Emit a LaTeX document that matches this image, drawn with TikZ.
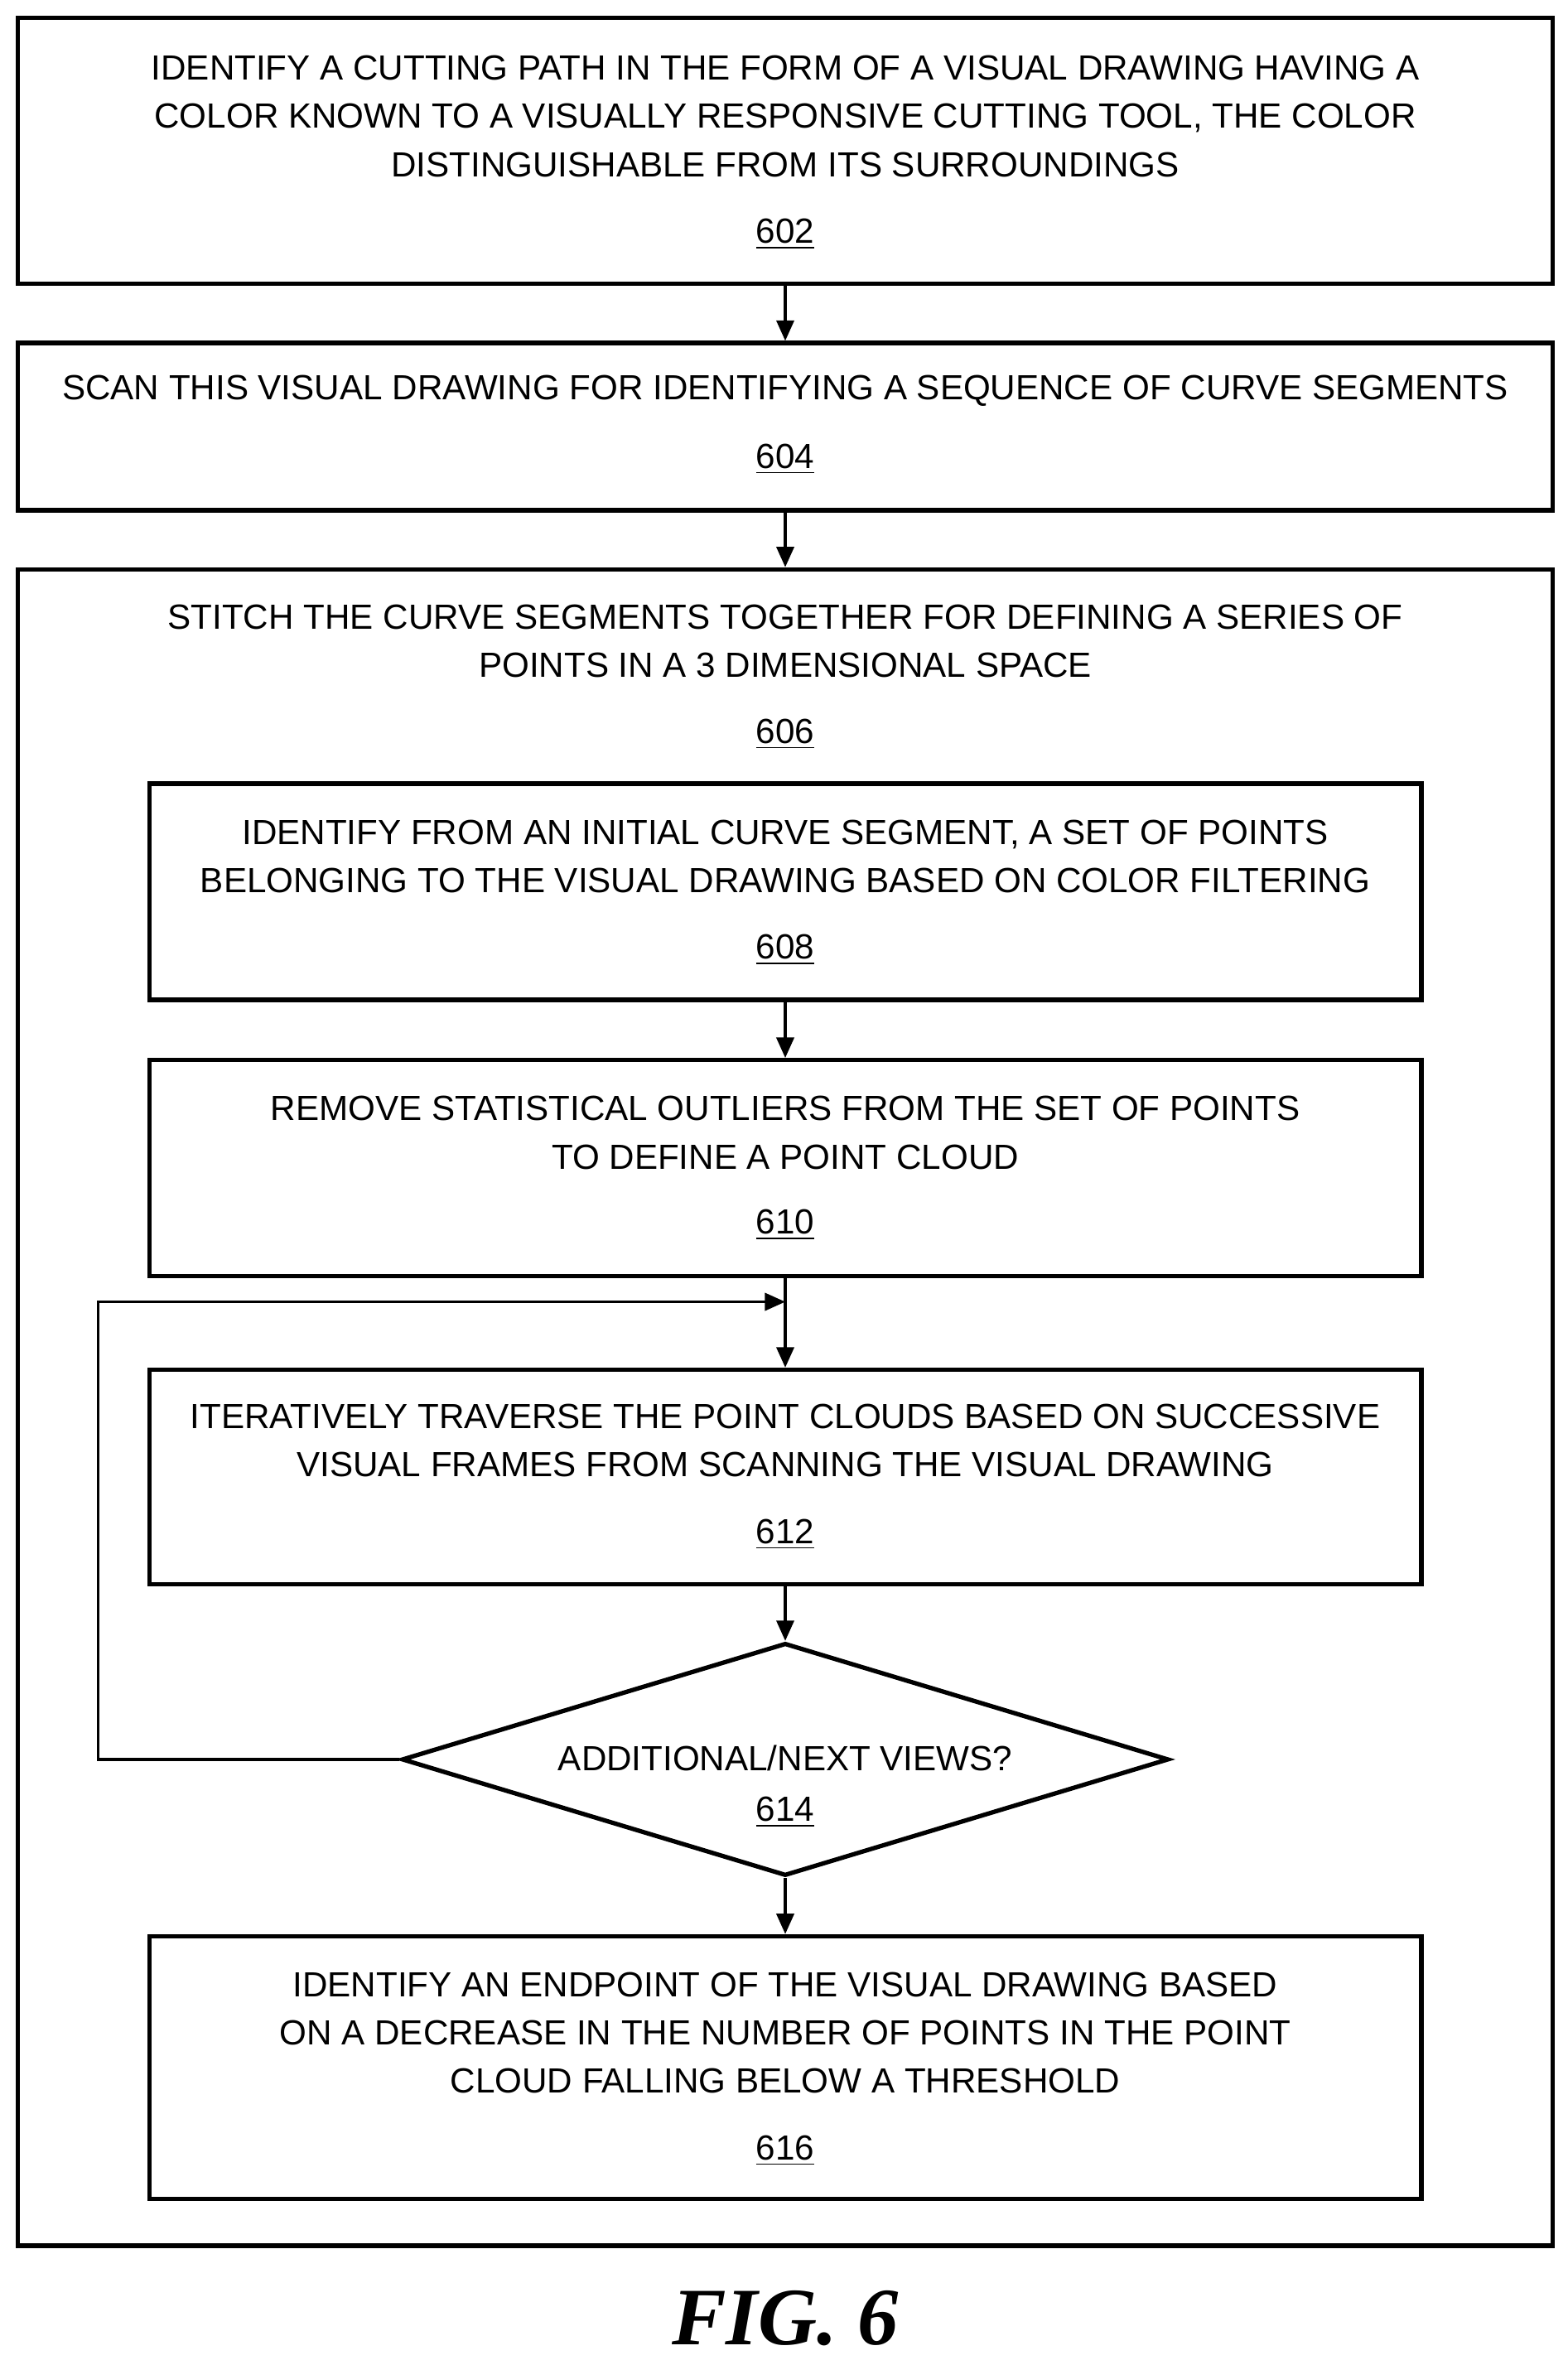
\documentclass[tikz,border=0pt]{standalone}
\usepackage{fontspec}
\setmainfont{Liberation Sans}
\newfontfamily\figfont{Liberation Serif}
\usetikzlibrary{arrows.meta,shapes.geometric,positioning}

\tikzset{
  box/.style={draw, line width=1.5pt, rectangle, inner sep=0pt},
  txt/.style={align=center, inner sep=0pt, font=\fontsize{12}{16.6}\selectfont},
  num/.style={inner sep=0pt, font=\fontsize{12}{16.6}\selectfont},
  arr/.style={-{Triangle[length=7pt,width=6pt]}, line width=1pt}
}

\begin{document}
\begin{tikzpicture}[x=0.018237cm, y=-0.018237cm]
            \useasboundingbox (0,0) rectangle (1038,1566);

            % boxes
            \node[box, minimum width=18.53cm, minimum height=3.21cm] (b602) at (520,100) {};
            \node[box, minimum width=18.53cm, minimum height=2.02cm] (b604) at (520,282.5) {};
            \node[box, minimum width=18.53cm, minimum height=20.24cm] (b606) at (520,932) {};
            \node[box, minimum width=15.36cm, minimum height=2.61cm] (b608) at (520,590.5) {};
            \node[box, minimum width=15.36cm, minimum height=2.61cm] (b610) at (520,773.5) {};
            \node[box, minimum width=15.36cm, minimum height=2.59cm] (b612) at (520,978) {};
            \node[box, diamond, minimum width=9.26cm, minimum height=2.81cm] (d614) at (520,1165) {};
            \node[box, minimum width=15.36cm, minimum height=3.17cm] (b616) at (520,1369) {};

            % texts
            \node[txt] (t602) at (520,77) {IDENTIFY A CUTTING PATH IN THE FORM OF A VISUAL DRAWING HAVING A\\COLOR KNOWN TO A VISUALLY RESPONSIVE CUTTING TOOL, THE COLOR\\DISTINGUISHABLE FROM ITS SURROUNDINGS};
            \node[num] (n602) at (520,155) {\underline{602}};
            \node[txt] (t604) at (520,259) {SCAN THIS VISUAL DRAWING FOR IDENTIFYING A SEQUENCE OF CURVE SEGMENTS};
            \node[num] (n604) at (520,304) {\underline{604}};
            \node[txt] (t606) at (520,424.5) {STITCH THE CURVE SEGMENTS TOGETHER FOR DEFINING A SERIES OF\\POINTS IN A 3 DIMENSIONAL SPACE};
            \node[num] (n606) at (520,486) {\underline{606}};
            \node[txt] (t608) at (520,567) {IDENTIFY FROM AN INITIAL CURVE SEGMENT, A SET OF POINTS\\BELONGING TO THE VISUAL DRAWING BASED ON COLOR FILTERING};
            \node[num] (n608) at (520,629) {\underline{608}};
            \node[txt] (t610) at (520,750) {REMOVE STATISTICAL OUTLIERS FROM THE SET OF POINTS\\TO DEFINE A POINT CLOUD};
            \node[num] (n610) at (520,811) {\underline{610}};
            \node[txt] (t612) at (520,954) {ITERATIVELY TRAVERSE THE POINT CLOUDS BASED ON SUCCESSIVE\\VISUAL FRAMES FROM SCANNING THE VISUAL DRAWING};
            \node[num] (n612) at (520,1016) {\underline{612}};
            \node[txt] (t614) at (520,1164) {ADDITIONAL/NEXT VIEWS?};
            \node[num] (n614) at (520,1200) {\underline{614}};
            \node[txt] (t616) at (520,1346) {IDENTIFY AN ENDPOINT OF THE VISUAL DRAWING BASED\\ON A DECREASE IN THE NUMBER OF POINTS IN THE POINT\\CLOUD FALLING BELOW A THRESHOLD};
            \node[num] (n616) at (520,1424) {\underline{616}};

            \node[inner sep=0pt, font=\figfont\bfseries\itshape\fontsize{28}{28}\selectfont] (fig) at (520,1535) {FIG. 6};

            % connectors
            \draw[arr] (b602) -- (b604);
            \draw[arr] (b604) -- (b606);
            \draw[arr] (b608) -- (b610);
            \coordinate (loopin) at (520,862);
            \draw[line width=1pt] (b610) -- (loopin);
            \draw[arr] (loopin) -- (b612);
            \draw[arr] (b612) -- (d614);
            \draw[arr] (d614) -- (b616);
            \draw[arr] (d614.west) -| (65,862) -- (loopin);
\end{tikzpicture}
\end{document}
